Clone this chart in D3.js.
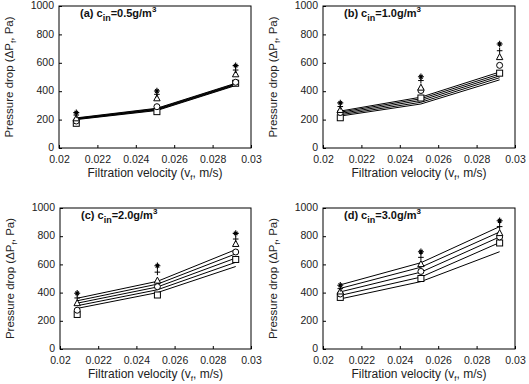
<!DOCTYPE html>
<html><head><meta charset="utf-8">
<script src="https://cdn.jsdelivr.net/npm/d3@7"></script>
<style>
body{margin:0;background:#fff;}
svg{display:block;font-family:"Liberation Sans",Arial,sans-serif;}
</style></head>
<body><svg id="c" width="529" height="384"></svg>
<script>
const velocities = [0.0209, 0.0251, 0.0292];
const xTicks = [0.02, 0.022, 0.024, 0.026, 0.028, 0.03];
const xTickLabels = ["0.02", "0.022", "0.024", "0.026", "0.028", "0.03"];
const yTicks = [0, 200, 400, 600, 800, 1000];
const markerTypes = ["square", "circle", "triangle", "plus", "star"];
const panelLabels = ["(a)", "(b)", "(c)", "(d)"];
const concentrations = ["0.5", "1.0", "2.0", "3.0"];

// model lines (5 per panel), values at the three velocities
const linesA = [[200,264,440],[203,268,444],[206,272,448],[209,276,452],[212,280,456]];
const linesB = [[225,310,480],[234,322,495],[243,335,508],[252,347,521],[260,358,535]];
const linesC = [[288,400,585],[307,420,615],[325,440,645],[342,460,675],[360,480,705]];
const linesD = [[355,478,690],[380,510,755],[405,545,795],[430,580,830],[455,612,868]];
// measured points, one row per marker type
const pointsA = [[174,256,456],[190,291,463],[209,350,519],[232,378,549],[249,401,580]];
const pointsB = [[213,352,527],[250,405,582],[268,425,640],[292,475,685],[318,502,732]];
const pointsC = [[245,383,635],[275,442,688],[325,485,745],[362,545,780],[395,590,820]];
const pointsD = [[366,500,752],[390,550,795],[408,602,822],[428,650,868],[452,690,910]];

const panels = [
  {x0:59, x1:251, y0:6, y1:148, lines:linesA, pts:pointsA},
  {x0:323, x1:515, y0:6, y1:148, lines:linesB, pts:pointsB},
  {x0:60, x1:251, y0:208, y1:349, lines:linesC, pts:pointsC},
  {x0:323, x1:515, y0:208, y1:349, lines:linesD, pts:pointsD}
];

const svg = d3.select("#c");

function drawMarker(g, type, cx, cy){
  const s = 3;
  if(type==="square"){
    g.append("rect").attr("x",cx-s).attr("y",cy-s).attr("width",2*s).attr("height",2*s)
     .attr("fill","#fff").attr("stroke","#000").attr("stroke-width",1);
  } else if(type==="circle"){
    g.append("circle").attr("cx",cx).attr("cy",cy).attr("r",3)
     .attr("fill","#fff").attr("stroke","#000").attr("stroke-width",1);
  } else if(type==="triangle"){
    g.append("path").attr("d",`M${cx},${cy-3.5}L${cx+3.2},${cy+2.5}L${cx-3.2},${cy+2.5}Z`)
     .attr("fill","#fff").attr("stroke","#000").attr("stroke-width",1);
  } else if(type==="plus"){
    g.append("path").attr("d",`M${cx-2.8},${cy}H${cx+2.8}M${cx},${cy-3}V${cy+3}`)
     .attr("stroke","#000").attr("stroke-width",1).attr("fill","none");
  } else {
    g.append("path").attr("d",`M${cx-3},${cy}H${cx+3}M${cx},${cy-3.2}V${cy+3.2}M${cx-1.8},${cy-1.8}L${cx+1.8},${cy+1.8}M${cx-1.8},${cy+1.8}L${cx+1.8},${cy-1.8}`)
     .attr("stroke","#000").attr("stroke-width",1.1).attr("fill","none");
  }
}

panels.forEach((p,i)=>{
  const x = d3.scaleLinear().domain([0.02,0.03]).range([p.x0,p.x1]);
  const y = d3.scaleLinear().domain([0,1000]).range([p.y1,p.y0]);
  const g = svg.append("g");

  // frame
  g.append("rect").attr("x",p.x0).attr("y",p.y0).attr("width",p.x1-p.x0).attr("height",p.y1-p.y0)
   .attr("fill","none").attr("stroke","#000").attr("stroke-width",1);

  // axes
  const xa = g.append("g").attr("transform",`translate(0,${p.y1})`)
    .call(d3.axisBottom(x).tickValues(xTicks).tickSizeInner(-3).tickSizeOuter(0).tickPadding(8)
      .tickFormat((d,k)=>xTickLabels[k]));
  const ya = g.append("g").attr("transform",`translate(${p.x0},0)`)
    .call(d3.axisLeft(y).tickValues(yTicks).tickSizeInner(-3).tickSizeOuter(0).tickPadding(5)
      .tickFormat(d3.format("d")));
  [xa,ya].forEach(a=>{
    a.select(".domain").remove();
    a.selectAll("text").attr("font-size",10.5).attr("fill","#222").attr("font-family","\"Liberation Sans\",Arial,sans-serif");
    a.selectAll("line").attr("stroke","#000");
  });
  ya.selectAll("text").attr("dy","0.25em");

  // lines
  const line = d3.line().x((d,k)=>x(velocities[k])).y(d=>y(d));
  p.lines.forEach(l=>{
    g.append("path").attr("d",line(l)).attr("fill","none").attr("stroke","#000").attr("stroke-width",1);
  });
  // markers
  p.pts.forEach((row,m)=>{
    row.forEach((v,k)=>drawMarker(g, markerTypes[m], x(velocities[k]), y(v)));
  });

  // title
  const t = g.append("text").attr("x",p.x0+21).attr("y",p.y0+10.5)
    .attr("font-size",11).attr("font-weight","bold").attr("fill","#111");
  t.append("tspan").text(panelLabels[i]+" c");
  t.append("tspan").attr("font-size",9).attr("dy",4).text("in");
  t.append("tspan").attr("dy",-4).text("="+concentrations[i]+"g/m");
  t.append("tspan").attr("font-size",8).attr("dy",-5).text("3");

  // x label
  const xl = g.append("text").attr("x",(p.x0+p.x1)/2).attr("y",p.y1+29)
    .attr("text-anchor","middle").attr("font-size",12).attr("fill","#222");
  xl.append("tspan").text("Filtration velocity (v");
  xl.append("tspan").attr("font-size",8).attr("dy",3).text("f");
  xl.append("tspan").attr("dy",-3).text(", m/s)");

  // y label
  const yl = g.append("text")
    .attr("transform",`translate(${p.x0-46},${(p.y0+p.y1)/2}) rotate(-90)`)
    .attr("text-anchor","middle").attr("font-size",11.5).attr("fill","#222");
  yl.append("tspan").text("Pressure drop (\u0394P");
  yl.append("tspan").attr("font-size",8).attr("dy",3).text("f");
  yl.append("tspan").attr("dy",-3).text(", Pa)");
});
</script></body></html>
